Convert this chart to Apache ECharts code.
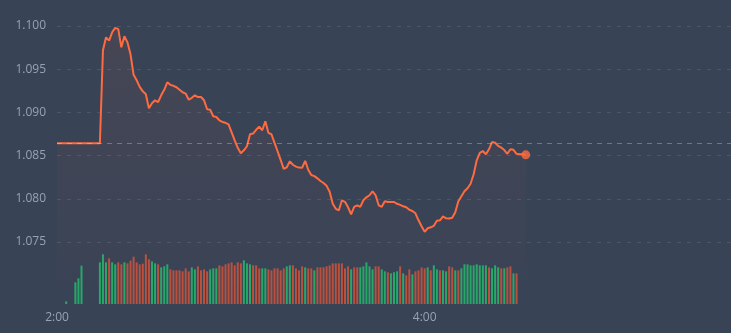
<!DOCTYPE html>
<html><head><meta charset="utf-8">
<script src="https://cdn.jsdelivr.net/npm/echarts@6/dist/echarts.min.js"></script>
<style>html,body{margin:0;padding:0;background:#384356;}#c{width:731px;height:333px;}</style>
</head><body><div id="c"></div>
<script>
// time slots: one per minute starting at 2:00
const startHour = 2;
const slotCount = 221;
const times = [];
for (let i = 0; i < slotCount; i++) {
  const m = startHour * 60 + i;
  times.push(Math.floor(m / 60) + ':' + String(m % 60).padStart(2, '0'));
}
const xLabelEvery = 120;

const yMin = 1.070, yMax = 1.100, yStep = 0.005;
const prevClose = 1.08642;

const price = [
  1.08642,1.08642,1.08642,1.08642,1.08642,1.08642,1.08642,1.08642,1.08642,1.08642,
  1.08642,1.08642,1.08642,1.08642,1.08642,1.09719,1.09869,1.09831,1.09927,1.09979,
  1.09964,1.09753,1.09881,1.09811,1.09672,1.09435,1.09372,1.09296,1.09244,1.09210,
  1.09047,1.09105,1.09140,1.09120,1.09198,1.09262,1.09348,1.09319,1.09308,1.09291,
  1.09262,1.09233,1.09218,1.09146,1.09169,1.09198,1.09178,1.09178,1.09140,1.09036,
  1.09032,1.08955,1.08947,1.08909,1.08889,1.08880,1.08862,1.08770,1.08677,1.08590,
  1.08527,1.08561,1.08608,1.08747,1.08755,1.08799,1.08836,1.08793,1.08897,1.08764,
  1.08747,1.08648,1.08550,1.08451,1.08347,1.08365,1.08434,1.08394,1.08373,1.08361,
  1.08359,1.08440,1.08336,1.08275,1.08263,1.08237,1.08206,1.08183,1.08150,1.08081,
  1.07942,1.07884,1.07867,1.07983,1.07965,1.07902,1.07821,1.07907,1.07925,1.07907,
  1.07983,1.08017,1.08041,1.08087,1.08041,1.07925,1.07907,1.07971,1.07963,1.07963,
  1.07963,1.07942,1.07929,1.07913,1.07902,1.07873,1.07859,1.07832,1.07751,1.07682,
  1.07618,1.07659,1.07670,1.07687,1.07745,1.07751,1.07797,1.07774,1.07771,1.07780,
  1.07844,1.07971,1.08029,1.08087,1.08122,1.08174,1.08284,1.08446,1.08532,1.08553,
  1.08515,1.08573,1.08657,1.08648,1.08613,1.08593,1.08564,1.08521,1.08573,1.08567,
  1.08521,1.08515,1.08515,1.08509
];

const volume = [
  null,null,null,8,null,null,65,77,115,null,null,null,null,null,
  125,149,125,137,125,119,125,119,125,122,130,142,125,119,121,149,134,128,122,119,
  110,113,119,104,101,101,101,98,107,98,110,104,113,101,104,98,104,107,107,116,
  113,119,122,125,116,125,122,131,122,
  119,116,116,107,107,107,104,101,107,107,
  101,107,113,116,116,107,101,113,110,107,
  107,101,110,110,110,113,116,122,122,122,
  122,107,113,104,110,110,110,113,125,113,
  104,113,113,104,98,95,92,95,98,113,
  92,86,104,89,98,101,110,107,110,101,
  116,104,101,101,98,113,110,101,101,107,
  119,119,116,116,119,116,116,116,110,
  107,116,110,107,107,110,113,92,92
];
const volDir = (
  'xxxGxxGGGxxxxx' +
  'GGGRGGRRGR' + 'RRRRRRRGGR' + 'GGGRRRRRRR' + 'GGRRRRGGGR' + 'RRRRRRRGG' +
  'GRRRGGRRRR' + 'RRGGRRRRGR' + 'RGRRRRRRRR' + 'RRRGRRGGGG' + 'GRRGGRGGGR' +
  'GRRGRRRRGR' + 'GGRGGRRGRG' + 'GGGGGGGGR' +
  'GGGRGRRGR'
).split('');

const LINE = '#ff6b40', GREEN = '#27a86a', RED = '#b9513f', LABEL = '#98a2b3';

const volData = volume.map((v, i) => v == null ? '-' : {
  value: v, itemStyle: { color: volDir[i] === 'G' ? GREEN : RED }
});
const last = price.length - 1;

const chart = echarts.init(document.getElementById('c'));
chart.setOption({
  backgroundColor: '#384356',
  animation: false,
  textStyle: { fontFamily: 'Open Sans' },
  grid: [
    { left: 57, right: 0, top: 26, height: 259.2 },
    { left: 57, right: 0, top: 254, height: 50 }
  ],
  xAxis: [
    { type: 'category', gridIndex: 0, data: times, boundaryGap: false, show: false },
    { type: 'category', gridIndex: 1, data: times, boundaryGap: false,
      axisLine: { show: false }, axisTick: { show: false }, splitLine: { show: false },
      axisLabel: { color: LABEL, fontSize: 12, margin: 8,
        interval: (idx) => idx % xLabelEvery === 0 } }
  ],
  yAxis: [
    { type: 'value', gridIndex: 0, min: yMin, max: yMax, interval: yStep,
      axisLine: { show: false }, axisTick: { show: false },
      axisLabel: { color: LABEL, fontSize: 12, margin: 11, showMinLabel: false,
        formatter: v => v.toFixed(3) },
      splitLine: { show: true, showMinLine: false,
        lineStyle: { color: 'rgba(255,255,255,0.1)', type: [4, 6], width: 1 } } },
    { type: 'value', gridIndex: 1, min: 0, max: 150, show: false }
  ],
  series: [
    { type: 'line', xAxisIndex: 0, yAxisIndex: 0, data: price, symbol: 'none',
      lineStyle: { color: LINE, width: 2 }, itemStyle: { color: LINE },
      areaStyle: { color: new echarts.graphic.LinearGradient(0, 0, 0, 1, [
        { offset: 0, color: 'rgba(255,107,64,0.10)' },
        { offset: 1, color: 'rgba(255,107,64,0.01)' }]) },
      markLine: { silent: true, precision: 5, symbol: ['none', 'none'], label: { show: false },
        lineStyle: { color: 'rgba(255,255,255,0.28)', type: [5, 5], width: 1 },
        data: [{ yAxis: prevClose }] } },
    { type: 'scatter', xAxisIndex: 0, yAxisIndex: 0, data: [[last, price[last]]],
      symbolSize: 9, itemStyle: { color: LINE } },
    { type: 'bar', xAxisIndex: 1, yAxisIndex: 1, data: volData, barWidth: 2 }
  ]
});
</script></body></html>
